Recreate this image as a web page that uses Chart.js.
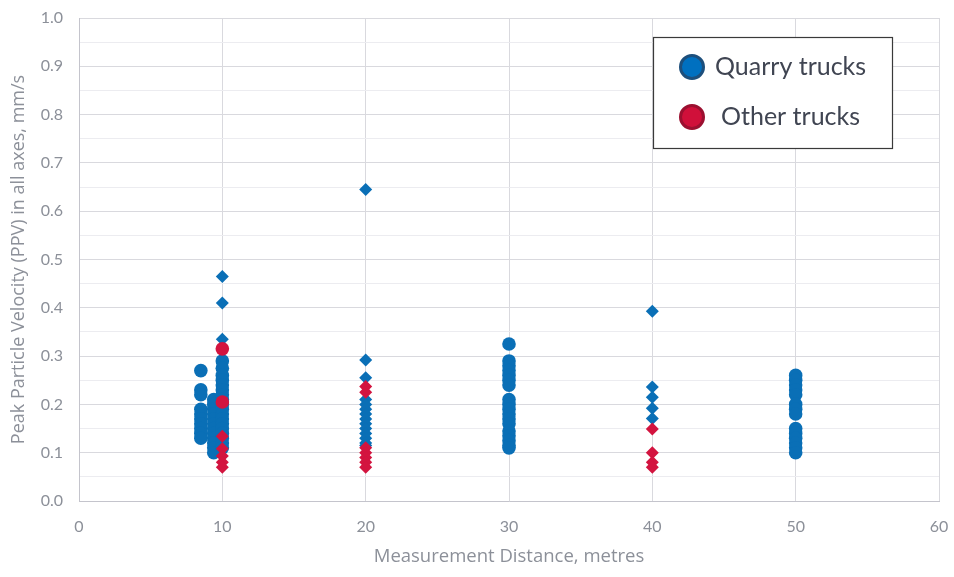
<!DOCTYPE html>
<html>
<head>
<meta charset="utf-8">
<script src="https://cdn.jsdelivr.net/npm/chart.js@4.4.1/dist/chart.umd.min.js"></script>
<style>
    html, body { margin: 0; padding: 0; background: #ffffff; }
    #wrap { width: 954px; height: 577px; position: relative; }
</style>
</head>
<body>
<div id="wrap"><canvas id="ppvChart"></canvas></div>
<script>
// Quarry trucks, round markers (x position -> PPV values)
const quarryX85 = [0.27, 0.23, 0.22, 0.19, 0.18, 0.17, 0.16, 0.15, 0.14, 0.13];
const quarryX94 = [0.21, 0.2, 0.19, 0.18, 0.17, 0.16, 0.15, 0.14, 0.13, 0.12, 0.11, 0.1];
const quarryX10 = [0.29, 0.275, 0.26, 0.25, 0.24, 0.23, 0.22, 0.21, 0.2, 0.19, 0.18, 0.17, 0.16, 0.15, 0.14, 0.13, 0.12, 0.11];
const quarryX30 = [0.325, 0.29, 0.28, 0.27, 0.26, 0.25, 0.24, 0.21, 0.2, 0.19, 0.18, 0.17, 0.16, 0.145, 0.135, 0.125, 0.115, 0.11];
const quarryX50 = [0.26, 0.25, 0.24, 0.23, 0.22, 0.2, 0.19, 0.18, 0.15, 0.14, 0.13, 0.12, 0.11, 0.1];

// Quarry trucks, diamond markers
const quarryDiaX10 = [0.465, 0.41, 0.335];
const quarryDiaX20 = [0.645, 0.292, 0.255, 0.21, 0.2, 0.19, 0.18, 0.17, 0.16, 0.15, 0.14, 0.13, 0.12, 0.115];
const quarryDiaX40 = [0.393, 0.236, 0.215, 0.192, 0.171];

// Other trucks
const otherX10 = [0.315, 0.205];
const otherDiaX10 = [0.134, 0.108, 0.093, 0.08, 0.07];
const otherDiaX20 = [0.237, 0.225, 0.11, 0.1, 0.09, 0.08, 0.07];
const otherDiaX40 = [0.149, 0.1, 0.08, 0.07];

const xTicks = [0, 10, 20, 30, 40, 50, 60];

const blue = '#0a6fb6';
const red = '#d3143f';

function pts(x, ys) {
    return ys.map(y => ({ x: x, y: y }));
}

// Legend di dalam area plot (kotak dengan border)
const boxLegend = {
    id: 'boxLegend',
    afterDraw(chart) {
        const ctx = chart.ctx;
        const bx = 653, by = 37, bw = 239, bh = 111;
        ctx.save();
        ctx.fillStyle = '#ffffff';
        ctx.fillRect(bx, by, bw, bh);
        ctx.strokeStyle = '#3a3a3a';
        ctx.lineWidth = 1.2;
        ctx.strokeRect(bx + 0.5, by + 0.5, bw, bh);
        const items = [
            { text: 'Quarry trucks', fill: '#0070c0', border: '#1d4f7c', y: 67, tx: 715 },
            { text: 'Other trucks', fill: '#d0103a', border: '#9b1030', y: 117, tx: 721 }
        ];
        items.forEach(it => {
            ctx.beginPath();
            ctx.arc(692, it.y, 11.5, 0, Math.PI * 2);
            ctx.fillStyle = it.fill;
            ctx.fill();
            ctx.lineWidth = 3;
            ctx.strokeStyle = it.border;
            ctx.stroke();
            ctx.fillStyle = '#404552';
            ctx.font = '25px Lato';
            ctx.textBaseline = 'middle';
            ctx.textAlign = 'left';
            ctx.fillText(it.text, it.tx, it.y);
        });
        ctx.restore();
    }
};

const ctx = document.getElementById('ppvChart').getContext('2d');
const ppvChart = new Chart(ctx, {
    type: 'scatter',
    data: {
        datasets: [
            {
                label: 'Quarry trucks',
                data: [].concat(pts(8.5, quarryX85), pts(9.4, quarryX94), pts(10, quarryX10), pts(30, quarryX30), pts(50, quarryX50)),
                backgroundColor: blue,
                borderColor: blue,
                pointStyle: 'circle',
                pointRadius: 6.8,
                borderWidth: 0,
                order: 3
            },
            {
                label: 'Quarry trucks (diamond)',
                data: [].concat(pts(10, quarryDiaX10), pts(20, quarryDiaX20), pts(40, quarryDiaX40)),
                backgroundColor: blue,
                borderColor: blue,
                pointStyle: 'rectRot',
                pointRadius: 6.5,
                borderWidth: 0,
                order: 2
            },
            {
                label: 'Other trucks',
                data: pts(10, otherX10),
                backgroundColor: red,
                borderColor: red,
                pointStyle: 'circle',
                pointRadius: 6.8,
                borderWidth: 0,
                order: 1
            },
            {
                label: 'Other trucks (diamond)',
                data: [].concat(pts(10, otherDiaX10), pts(20, otherDiaX20), pts(40, otherDiaX40)),
                backgroundColor: red,
                borderColor: red,
                pointStyle: 'rectRot',
                pointRadius: 6.5,
                borderWidth: 0,
                order: 0
            }
        ]
    },
    options: {
        responsive: true,
        maintainAspectRatio: false,
        animation: false,
        layout: {
            padding: { left: 0, right: 15, top: 18, bottom: 0 }
        },
        plugins: {
            legend: { display: false },
            tooltip: { enabled: false }
        },
        scales: {
            x: {
                type: 'linear',
                min: 0,
                max: 60,
                afterBuildTicks: function (scale) {
                    scale.ticks = xTicks.map(v => ({ value: v }));
                },
                afterFit: function (scale) {
                    scale.height = 76;
                },
                grid: {
                    color: '#d9d9de',
                    drawTicks: true,
                    tickLength: 16,
                    tickColor: 'rgba(0,0,0,0)'
                },
                border: { color: '#c4c4cc' },
                ticks: {
                    padding: 0,
                    color: '#8c9099',
                    font: { family: 'Lato', size: 16 }
                },
                title: {
                    display: true,
                    text: 'Measurement Distance, metres',
                    color: '#8c9099',
                    font: { family: 'Open Sans', size: 18.5 },
                    padding: { top: 0, bottom: 9 }
                }
            },
            y: {
                min: 0,
                max: 1,
                afterFit: function (scale) {
                    scale.width = 79;
                },
                ticks: {
                    stepSize: 0.05,
                    padding: 0,
                    color: '#8c9099',
                    font: { family: 'Lato', size: 16 },
                    callback: function (value, index) {
                        return index % 2 === 0 ? value.toFixed(1) : '';
                    }
                },
                grid: {
                    drawTicks: true,
                    tickLength: 16,
                    tickColor: 'rgba(0,0,0,0)',
                    color: function (c) {
                        return c.index % 2 === 0 ? '#d9d9de' : '#ececf0';
                    }
                },
                border: { color: '#c4c4cc' },
                title: {
                    display: true,
                    text: 'Peak Particle Velocity (PPV) in all axes, mm/s',
                    color: '#8c9099',
                    font: { family: 'Open Sans', size: 18 },
                    padding: { top: 8, bottom: 0 }
                }
            }
        }
    },
    plugins: [boxLegend]
});
</script>
</body>
</html>
